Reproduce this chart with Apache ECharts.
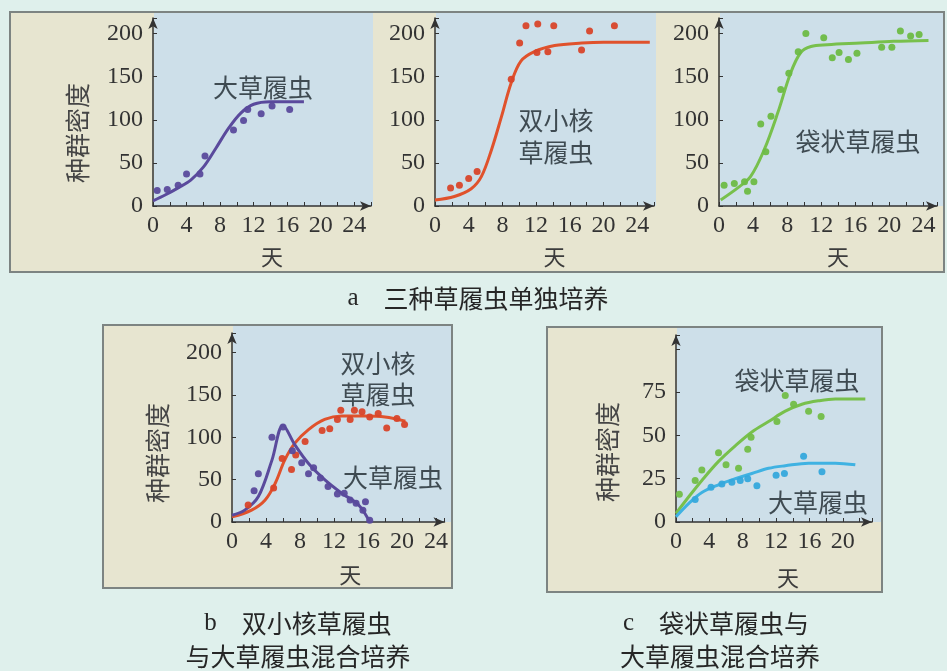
<!DOCTYPE html>
<html><head><meta charset="utf-8">
<script src="https://cdn.jsdelivr.net/npm/echarts@6/dist/echarts.min.js"></script>
<style>html,body{margin:0;padding:0;background:#dff0ec}#c{width:947px;height:671px}</style>
</head><body><div id="c"></div>
<script>
// ---------- data (day, population density) ----------
// a: grown alone
const caudatumAloneDots = [[0.5,18],[1.7,19],[3.0,24],[4.0,37],[5.6,37],[6.2,58],[9.6,88],[10.8,99],[11.3,112],[12.9,107],[14.2,116],[16.3,112]];
const caudatumAloneCurve = [[0,6],[1.5,13],[3,21],[4.5,30],[6,45],[7.5,67],[9,90],[10.5,108],[12,118],[14,121],[16,121],[18,121]];
const aureliaAloneDots = [[1.85,21],[2.9,24],[4.0,32],[5.0,40],[9.05,147],[10.05,189],[10.8,209],[12.2,211],[12.1,178],[13.4,179],[14.1,209],[17.4,181],[18.35,203],[21.3,209]];
const aureliaAloneCurve = [[0,7],[2.3,11],[4.3,20],[5.5,34],[6.7,65],[7.9,104],[9.05,143],[10.2,168],[11.8,179],[14.2,186],[17.4,189],[20,190],[25.5,190]];
const bursariaAloneDots = [[0.6,24],[1.8,26],[3.0,28],[3.35,17],[4.1,28],[4.9,95],[5.5,63],[6.1,104],[7.25,135],[8.2,154],[9.3,179],[10.2,200],[12.3,195],[13.3,172],[14.1,178],[15.2,170],[16.2,177],[19.1,184],[20.3,184],[21.3,203],[22.5,197],[23.5,199]];
const bursariaAloneCurve = [[0.2,7],[2.2,21],[3.7,34],[5.3,65],[6.9,108],[8.4,154],[9.6,178],[10.8,185],[12.7,187],[16.6,189],[20.5,191],[24.6,192]];
// b: P. aurelia + P. caudatum
const caudatumMixBDots = [[2.6,37],[3.1,57],[4.7,100],[6.0,112],[7.1,84],[8.2,70],[9.0,57],[9.6,64],[10.4,52],[11.3,42],[12.4,33],[13.2,34],[13.9,26],[14.6,22],[15.4,14],[15.7,24],[16.2,2]];
const caudatumMixBCurve = [[0,8],[1.5,14],[3.1,30],[4.7,73],[6.0,114],[7.4,91],[9.0,69],[10.9,50],[12.9,34],[14.9,20],[16.2,0]];
const aureliaMixDots = [[1.9,20],[4.9,40],[5.9,75],[7.0,62],[7.5,79],[8.6,95],[10.6,108],[11.5,110],[12.4,121],[12.8,132],[13.9,121],[14.4,132],[15.3,130],[16.2,124],[17.2,128],[18.2,111],[19.4,122],[20.3,115]];
const aureliaMixCurve = [[0,6],[2.3,14],[3.9,26],[5.1,46],[6.2,73],[7.4,93],[9.0,109],[10.9,121],[12.9,125],[15.6,125],[18,124],[20.4,119]];
// c: P. bursaria + P. caudatum
const bursariaMixDots = [[0.4,16],[2.3,24],[3.1,30],[5.1,40],[6.0,33],[7.5,31],[8.6,42],[9.0,49],[12.1,58],[13.1,73],[14.1,68],[15.9,64],[17.4,61]];
const bursariaMixCurve = [[0,5],[1.6,15],[3.1,24],[5.1,35],[7.1,44],[9.1,52],[11.1,58],[13.1,64],[15.1,68],[17.1,70],[19.1,71],[22.7,71]];
const caudatumMixCDots = [[2.3,13],[4.2,20],[5.5,22],[6.7,23],[7.7,24],[8.6,25],[9.7,21],[12.0,27],[13.0,28],[15.3,38],[17.5,29]];
const caudatumMixCCurve = [[0,3],[1.6,11],[3.1,17],[5.1,21.5],[7.1,25],[9.1,28],[11.1,31],[13.1,32.5],[15.9,34],[19.1,34],[21.5,33]];

const xLabelStep = 4;          // day labels every 4
const yLabelStepTop = 50;      // density labels
const yLabelStepC = 25;

// ---------- styling ----------
const C = { purple:'#5a4a9c', orange:'#e0522c', green:'#78c04c', blue:'#3fb2e2' };
const axisColor = '#333';
const numFont = 'Liberation Serif';
const cjk = '"Noto Sans CJK SC"';

function xAx(gi, max, maxLbl, padL, gap) {
  return {
    type:'value', gridIndex:gi, min:0, max:max, interval:2,
    name:'天', nameLocation:'middle', nameGap:gap,
    nameTextStyle:{fontFamily:'Noto Sans CJK SC', fontSize:22, color:'#3c3c3c', padding:[0,0,0,padL]},
    axisLine:{show:true, lineStyle:{color:axisColor, width:1.5}, symbol:['none','arrow'], symbolSize:[7,11]},
    axisTick:{show:true, inside:true, length:4, lineStyle:{color:axisColor}},
    splitLine:{show:false},
    axisLabel:{fontFamily:numFont, fontSize:24, color:'#333', margin:8,
      formatter: v => (Math.abs(v % xLabelStep) < 1e-6 && v <= maxLbl) ? String(v) : ''}
  };
}
function yAx(gi, max, step, maxLbl) {
  return {
    type:'value', gridIndex:gi, min:0, max:max, interval:step,
    axisLine:{show:true, lineStyle:{color:axisColor, width:1.5}, symbol:['none','arrow'], symbolSize:[7,11]},
    axisTick:{show:true, inside:true, length:4, lineStyle:{color:axisColor}},
    splitLine:{show:false},
    axisLabel:{fontFamily:numFont, fontSize:24, color:'#333', margin:10,
      formatter: v => (Math.abs(v % step) < 1e-6 && v <= maxLbl) ? String(v) : ''}
  };
}
function line(gi, data, color) {
  return {type:'line', xAxisIndex:gi, yAxisIndex:gi, data:data, smooth:0.35, showSymbol:false,
    lineStyle:{color:color, width:3}, itemStyle:{color:color}, z:3};
}
function dots(gi, data, color) {
  return {type:'scatter', xAxisIndex:gi, yAxisIndex:gi, data:data, symbolSize:7,
    itemStyle:{color:color, opacity:0.95}, z:4};
}
function txt(x, y, s, size, fill, extra) {
  return Object.assign({type:'text', x:x, y:y, z:100,
    style:{text:s, font:size+'px '+cjk, fill:fill, align:'center', verticalAlign:'middle'}}, extra||{});
}
function rect(x, y, w, h, fill, stroke) {
  return {type:'rect', z:-100, shape:{x:x,y:y,width:w,height:h},
    style:{fill:fill, stroke:stroke||null, lineWidth:stroke?2:0}};
}

const beige = '#e7e5d0', plotBlue = '#cddfe9', frame = '#7d8482', ann = '#3f4b52';

const option = {
  backgroundColor:'#dff0ec',
  animation:false,
  grid:[
    {left:153, top:18, width:218, height:188},
    {left:435, top:18, width:219, height:188},
    {left:719, top:18, width:218, height:188},
    {left:232, top:333, width:212.5, height:189},
    {left:676, top:335, width:196, height:187}
  ],
  xAxis:[ xAx(0,26,24,20,40), xAx(1,26,24,20,40), xAx(2,25.6,24,20,40), xAx(3,25,24,24,42), xAx(4,23.5,20,28,45) ],
  yAxis:[ yAx(0,218,yLabelStepTop,200), yAx(1,218,yLabelStepTop,200), yAx(2,218,yLabelStepTop,200), yAx(3,223,yLabelStepTop,200), yAx(4,108,yLabelStepC,75) ],
  series:[
    line(0, caudatumAloneCurve, C.purple), dots(0, caudatumAloneDots, C.purple),
    line(1, aureliaAloneCurve, C.orange), dots(1, aureliaAloneDots, '#d8452a'),
    line(2, bursariaAloneCurve, C.green), dots(2, bursariaAloneDots, '#6dbb45'),
    line(3, aureliaMixCurve, C.orange), dots(3, aureliaMixDots, '#d8452a'),
    line(3, caudatumMixBCurve, C.purple), dots(3, caudatumMixBDots, C.purple),
    line(4, bursariaMixCurve, C.green), dots(4, bursariaMixDots, '#72bd48'),
    line(4, caudatumMixCCurve, C.blue), dots(4, caudatumMixCDots, '#35a8dc')
  ],
  graphic:{elements:[
    rect(10,12,934,260,beige,frame),
    rect(154,13,219,193,plotBlue), rect(436,13,220,193,plotBlue), rect(720,13,223,193,plotBlue),
    rect(103,325,349,263,beige,frame), rect(233,326,218,196,plotBlue),
    rect(547,327,335,265,beige,frame), rect(677,328,204,194,plotBlue),
    txt(77,133,'种群密度',25,'#454545',{rotation:Math.PI/2}),
    txt(157,453,'种群密度',25,'#454545',{rotation:Math.PI/2}),
    txt(607,452,'种群密度',25,'#454545',{rotation:Math.PI/2}),
    txt(263,87,'大草履虫',25,ann),
    txt(556,120,'双小核',25,ann), txt(556,152,'草履虫',25,ann),
    txt(858,141,'袋状草履虫',25,ann),
    txt(378,363,'双小核',25,ann), txt(378,394,'草履虫',25,ann),
    txt(393,477,'大草履虫',25,ann),
    txt(797,380,'袋状草履虫',25,ann),
    txt(818,502,'大草履虫',25,ann),
    {type:'text', x:478, y:298, z:100, style:{text:'{l|a}　三种草履虫单独培养', font:'25px '+cjk, fill:'#262626', align:'center', verticalAlign:'middle', rich:{l:{fontFamily:numFont, fontSize:25}}}},
    {type:'text', x:298, y:623, z:100, style:{text:'{l|b}　双小核草履虫', font:'25px '+cjk, fill:'#262626', align:'center', verticalAlign:'middle', rich:{l:{fontFamily:numFont, fontSize:25}}}},
    txt(298,656,'与大草履虫混合培养',25,'#262626'),
    {type:'text', x:716, y:623, z:100, style:{text:'{l|c}　袋状草履虫与', font:'25px '+cjk, fill:'#262626', align:'center', verticalAlign:'middle', rich:{l:{fontFamily:numFont, fontSize:25}}}},
    txt(720,656,'大草履虫混合培养',25,'#262626')
  ]}
};
const chart = echarts.init(document.getElementById('c'), null, {renderer:'canvas'});
chart.setOption(option);
</script></body></html>
